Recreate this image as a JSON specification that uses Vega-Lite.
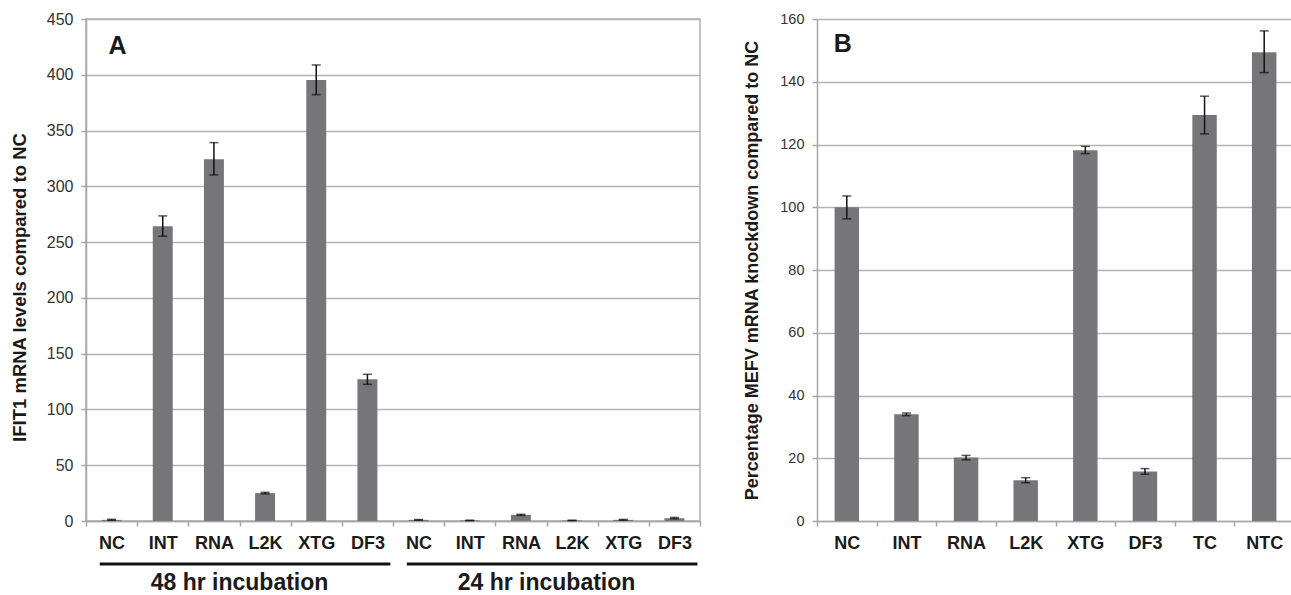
{
  "$schema": "https://vega.github.io/schema/vega-lite/v6.json",
  "background": "white",
  "padding": {"left": 9, "top": 10, "right": 0, "bottom": 0},
  "spacing": 41,
  "config": {
    "font": "Liberation Sans",
    "view": {"stroke": null},
    "axis": {
      "domainColor": "#a6a6a6", "domainWidth": 1.5,
      "tickColor": "#a6a6a6", "tickWidth": 1.5, "tickSize": 5,
      "gridColor": "#b4b4b4", "gridWidth": 1.5,
      "labelFont": "Liberation Sans", "titleFont": "Liberation Sans"
    }
  },
  "datasets": {
    "a": [
      {"id": "48|NC", "value": 1.0, "lo": 0.6, "hi": 1.5},
      {"id": "48|INT", "value": 264.3, "lo": 255.3, "hi": 273.5},
      {"id": "48|RNA", "value": 324.3, "lo": 310.2, "hi": 339.2},
      {"id": "48|L2K", "value": 25.0, "lo": 24.3, "hi": 25.7},
      {"id": "48|XTG", "value": 395.4, "lo": 382.2, "hi": 408.8},
      {"id": "48|DF3", "value": 127.0, "lo": 122.5, "hi": 131.5},
      {"id": "24|NC", "value": 1.0, "lo": 0.7, "hi": 1.3},
      {"id": "24|INT", "value": 0.5, "lo": 0.3, "hi": 0.7},
      {"id": "24|RNA", "value": 5.5, "lo": 5.0, "hi": 6.0},
      {"id": "24|L2K", "value": 0.5, "lo": 0.3, "hi": 0.7},
      {"id": "24|XTG", "value": 1.0, "lo": 0.7, "hi": 1.4},
      {"id": "24|DF3", "value": 2.5, "lo": 2.0, "hi": 3.2}
    ],
    "groups": [
      {"group": "48 hr incubation", "start": "48|NC", "end": "48|DF3", "mid": "48|L2K"},
      {"group": "24 hr incubation", "start": "24|NC", "end": "24|DF3", "mid": "24|L2K"}
    ],
    "b": [
      {"cat": "NC", "value": 100.0, "lo": 96.3, "hi": 103.6},
      {"cat": "INT", "value": 34.0, "lo": 33.6, "hi": 34.4},
      {"cat": "RNA", "value": 20.2, "lo": 19.5, "hi": 20.9},
      {"cat": "L2K", "value": 13.0, "lo": 12.2, "hi": 13.8},
      {"cat": "XTG", "value": 118.2, "lo": 117.1, "hi": 119.4},
      {"cat": "DF3", "value": 15.8, "lo": 14.9, "hi": 16.7},
      {"cat": "TC", "value": 129.4, "lo": 123.4, "hi": 135.4},
      {"cat": "NTC", "value": 149.4, "lo": 142.9, "hi": 156.2}
    ]
  },
  "hconcat": [
    {
      "width": 614,
      "height": 502,
      "view": {"stroke": "#b0b0b0", "strokeWidth": 1.5},
      "layer": [
        {
          "data": {"name": "a"},
          "mark": {"type": "bar", "width": {"band": 0.39}, "color": "#76767a"},
          "encoding": {
            "x": {
              "field": "id", "type": "nominal",
              "scale": {"domain": ["48|NC", "48|INT", "48|RNA", "48|L2K", "48|XTG", "48|DF3", "24|NC", "24|INT", "24|RNA", "24|L2K", "24|XTG", "24|DF3"], "paddingInner": 0, "paddingOuter": 0},
              "axis": {
                "title": null, "labelAngle": 0, "labelExpr": "split(datum.label, '|')[1]",
                "labelFontSize": 18, "labelFontWeight": "bold", "labelColor": "#1a1a1a",
                "labelPadding": 8, "tickBand": "extent", "grid": false
              }
            },
            "y": {
              "field": "value", "type": "quantitative",
              "scale": {"domain": [0, 450], "nice": false},
              "axis": {
                "title": "IFIT1 mRNA levels compared to NC",
                "values": [0, 50, 100, 150, 200, 250, 300, 350, 400, 450],
                "grid": true, "labelFontSize": 16, "labelColor": "#333333", "labelPadding": 8,
                "titleFontSize": 18.5, "titleFontWeight": "bold", "titleColor": "#1a1a1a", "titlePadding": 17,
                "titleY": 268
              }
            }
          }
        },
        {
          "data": {"name": "a"},
          "mark": {"type": "rule", "color": "#111111", "strokeWidth": 1.5},
          "encoding": {
            "x": {"field": "id", "type": "nominal"},
            "y": {"field": "lo", "type": "quantitative"},
            "y2": {"field": "hi"}
          }
        },
        {
          "data": {"name": "a"},
          "mark": {"type": "tick", "color": "#111111", "thickness": 1.5, "size": 9, "orient": "horizontal"},
          "encoding": {
            "x": {"field": "id", "type": "nominal"},
            "y": {"field": "lo", "type": "quantitative"}
          }
        },
        {
          "data": {"name": "a"},
          "mark": {"type": "tick", "color": "#111111", "thickness": 1.5, "size": 9, "orient": "horizontal"},
          "encoding": {
            "x": {"field": "id", "type": "nominal"},
            "y": {"field": "hi", "type": "quantitative"}
          }
        },
        {
          "data": {"name": "groups"},
          "mark": {"type": "rule", "color": "#111111", "strokeWidth": 3},
          "encoding": {
            "x": {"field": "start", "type": "nominal", "bandPosition": 0.27},
            "x2": {"field": "end", "bandPosition": 0.95},
            "y": {"datum": -38.5, "type": "quantitative"}
          }
        },
        {
          "data": {"name": "groups"},
          "mark": {"type": "text", "fontSize": 23, "fontWeight": "bold", "color": "#1a1a1a", "align": "center", "baseline": "alphabetic"},
          "encoding": {
            "x": {"field": "mid", "type": "nominal", "bandPosition": 0},
            "y": {"datum": -61.5, "type": "quantitative"},
            "text": {"field": "group"}
          }
        },
        {
          "data": {"values": [{"letter": "A", "at": "48|NC"}]},
          "mark": {"type": "text", "fontSize": 25, "fontWeight": "bold", "color": "#1a1a1a", "align": "left", "baseline": "alphabetic"},
          "encoding": {
            "x": {"field": "at", "type": "nominal", "bandPosition": 0.44},
            "y": {"datum": 419, "type": "quantitative"},
            "text": {"field": "letter"}
          }
        }
      ]
    },
    {
      "width": 477,
      "height": 502,
      "layer": [
        {
          "data": {"name": "b"},
          "mark": {"type": "bar", "width": {"band": 0.41}, "color": "#76767a"},
          "encoding": {
            "x": {
              "field": "cat", "type": "nominal",
              "scale": {"domain": ["NC", "INT", "RNA", "L2K", "XTG", "DF3", "TC", "NTC"], "paddingInner": 0, "paddingOuter": 0},
              "axis": {
                "title": null, "labelAngle": 0,
                "labelFontSize": 18, "labelFontWeight": "bold", "labelColor": "#1a1a1a",
                "labelPadding": 8, "tickBand": "extent", "grid": false
              }
            },
            "y": {
              "field": "value", "type": "quantitative",
              "scale": {"domain": [0, 160], "nice": false},
              "axis": {
                "title": "Percentage MEFV mRNA knockdown compared to NC",
                "values": [0, 20, 40, 60, 80, 100, 120, 140, 160],
                "grid": true, "labelFontSize": 14.5, "labelColor": "#333333", "labelPadding": 8,
                "titleFontSize": 18, "titleFontWeight": "bold", "titleColor": "#1a1a1a", "titlePadding": 18
              }
            }
          }
        },
        {
          "data": {"name": "b"},
          "mark": {"type": "rule", "color": "#111111", "strokeWidth": 1.5},
          "encoding": {
            "x": {"field": "cat", "type": "nominal"},
            "y": {"field": "lo", "type": "quantitative"},
            "y2": {"field": "hi"}
          }
        },
        {
          "data": {"name": "b"},
          "mark": {"type": "tick", "color": "#111111", "thickness": 1.5, "size": 9, "orient": "horizontal"},
          "encoding": {
            "x": {"field": "cat", "type": "nominal"},
            "y": {"field": "lo", "type": "quantitative"}
          }
        },
        {
          "data": {"name": "b"},
          "mark": {"type": "tick", "color": "#111111", "thickness": 1.5, "size": 9, "orient": "horizontal"},
          "encoding": {
            "x": {"field": "cat", "type": "nominal"},
            "y": {"field": "hi", "type": "quantitative"}
          }
        },
        {
          "data": {"values": [{"letter": "B", "at": "NC"}]},
          "mark": {"type": "text", "fontSize": 25, "fontWeight": "bold", "color": "#1a1a1a", "align": "left", "baseline": "alphabetic"},
          "encoding": {
            "x": {"field": "at", "type": "nominal", "bandPosition": 0.28},
            "y": {"datum": 149.5, "type": "quantitative"},
            "text": {"field": "letter"}
          }
        }
      ]
    }
  ]
}
